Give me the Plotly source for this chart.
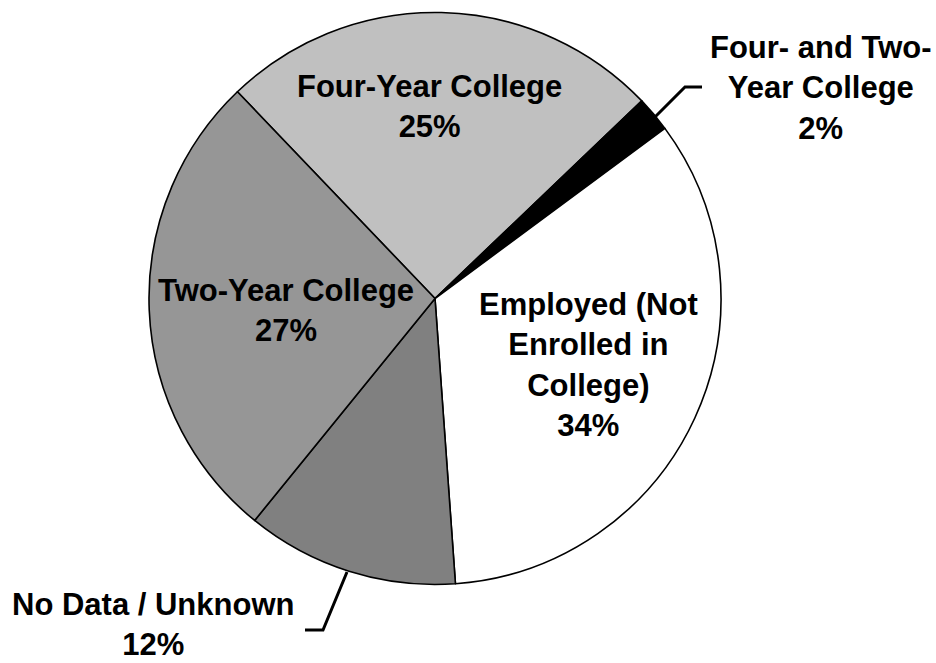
import plotly.graph_objects as go

# Post-school outcomes, clockwise from the upper-left boundary
categories = ["Four-Year College", "Four- and Two-Year College",
              "Employed (Not Enrolled in College)", "No Data / Unknown",
              "Two-Year College"]
values = [25, 2, 34, 12, 27]
label_lines = [["Four-Year College"], ["Four- and Two-", "Year College"],
               ["Employed (Not", "Enrolled in", "College)"],
               ["No Data / Unknown"], ["Two-Year College"]]
colors = ["#C0C0C0", "#000000", "#FFFFFF", "#808080", "#969696"]

W, H = 936, 663
CX, CY, R = 435, 298.5, 286


def px(x, y):
    return x / W, 1 - y / H


fig = go.Figure(go.Pie(
    labels=categories,
    values=values,
    sort=False,
    direction="clockwise",
    rotation=-43.7,
    marker=dict(colors=colors, line=dict(color="#000000", width=1.6)),
    textinfo="none",
    hoverinfo="label+percent",
    showlegend=False,
    domain=dict(x=[(CX - R) / W, (CX + R) / W],
                y=[1 - (CY + R) / H, 1 - (CY - R) / H]),
))

# label block centres in pixels
label_pos = [(429, 107), (821, 88), (588, 365), (153, 624), (286, 310)]
total = sum(values)
for lines, v, (x, y) in zip(label_lines, values, label_pos):
    pct = round(100 * v / total)
    xp, yp = px(x, y)
    fig.add_annotation(
        x=xp, y=yp, xref="paper", yref="paper",
        text="<br>".join(lines + [f"{pct}%"]),
        showarrow=False, xanchor="center", yanchor="middle", align="center",
        font=dict(family="Liberation Sans, Arial, sans-serif", size=31,
                  color="#000000", weight="bold"),
    )

# leader lines for the labels placed outside the pie
leaders = [
    [(655, 117), (685, 87), (702, 87)],
    [(347, 572), (323, 630), (305, 630)],
]
for pts in leaders:
    path = "M " + " L ".join(f"{px(x, y)[0]},{px(x, y)[1]}" for x, y in pts)
    fig.add_shape(type="path", path=path, xref="paper", yref="paper",
                  line=dict(color="#000000", width=3))

fig.update_layout(
    width=W, height=H,
    margin=dict(l=0, r=0, t=0, b=0),
    paper_bgcolor="#FFFFFF",
    plot_bgcolor="#FFFFFF",
)

fig.write_html("out.html")
